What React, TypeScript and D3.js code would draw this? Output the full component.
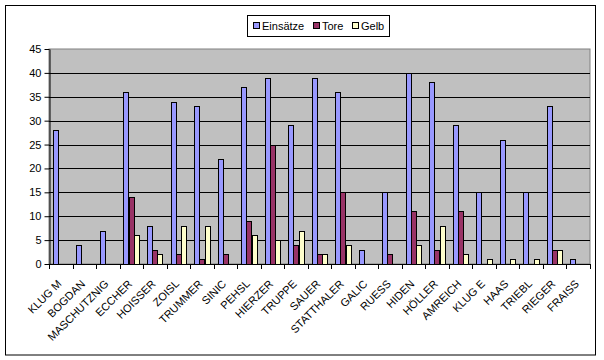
import React, {useEffect, useRef} from 'react';
import * as d3 from 'd3';

const players = ['KLUG M', 'BOGDAN', 'MASCHUTZNIG', 'ECCHER', 'HOISSER', 'ZOISL', 'TRUMMER', 'SINIC', 'PEHSL', 'HIERZER', 'TRUPPE', 'SAUER', 'STATTHALER', 'GALIC', 'RUESS', 'HIDEN', 'HÖLLER', 'AMREICH', 'KLUG E', 'HAAS', 'TRIEBL', 'RIEGER', 'FRAISS'];
const einsaetze = [28, 4, 7, 36, 8, 34, 33, 22, 37, 39, 29, 39, 36, 3, 15, 40, 38, 29, 15, 26, 15, 33, 1];
const tore = [0, 0, 0, 14, 3, 2, 1, 2, 9, 25, 4, 2, 15, 0, 2, 11, 3, 11, 0, 0, 0, 3, 0];
const gelb = [0, 0, 0, 6, 2, 8, 8, 0, 6, 5, 7, 2, 4, 0, 0, 4, 8, 2, 1, 1, 1, 3, 0];
const series_names = ['Einsätze', 'Tore', 'Gelb'];
const series_colors = ['#9999FF', '#993366', '#FFFFCC'];
const y_ticks = [0, 5, 10, 15, 20, 25, 30, 35, 40, 45];

const FONT = '"Liberation Sans", Arial, sans-serif';

export default function App() {
  const ref = useRef<SVGSVGElement>(null);

  useEffect(() => {
    const svg = d3.select(ref.current);
    svg.selectAll('*').remove();

    // plot area box
    const left = 49, right = 590, top = 49, bottom = 264;

    const x_scale = d3.scaleBand<string>().domain(players).range([left, right]);
    const inner = d3.scaleBand<string>()
      .domain(series_names)
      .range([0, x_scale.bandwidth()])
      .paddingInner(0)
      .paddingOuter(0.75);
    const y_scale = d3.scaleLinear().domain([0, 45]).range([bottom, top]);

    // chart border
    svg.append('rect')
      .attr('x', 5.5).attr('y', 5.5)
      .attr('width', 590).attr('height', 349.5)
      .attr('fill', '#fff').attr('stroke', '#000');

    // plot background
    svg.append('rect')
      .attr('x', left).attr('y', top)
      .attr('width', right - left).attr('height', bottom - top)
      .attr('fill', '#C0C0C0').attr('stroke', '#808080');

    // grid lines
    svg.append('g')
      .selectAll('line')
      .data(y_ticks.filter(d => d > 0 && d < 45))
      .join('line')
      .attr('x1', left).attr('x2', right)
      .attr('y1', d => Math.round(y_scale(d)) + 0.5)
      .attr('y2', d => Math.round(y_scale(d)) + 0.5)
      .attr('stroke', '#000');

    // bars
    const all_series = [einsaetze, tore, gelb];
    all_series.forEach((values, s) => {
      svg.append('g')
        .selectAll('rect')
        .data(players.map((p, i) => ({p, v: values[i]})).filter(d => d.v > 0))
        .join('rect')
        .attr('x', d => Math.round(x_scale(d.p)! + inner(series_names[s])!) + 0.5)
        .attr('y', d => Math.round(y_scale(d.v)) + 0.5)
        .attr('width', Math.round(inner.bandwidth()))
        .attr('height', d => Math.round(y_scale(0)) - Math.round(y_scale(d.v)))
        .attr('fill', series_colors[s])
        .attr('stroke', '#000');
    });

    // y axis
    svg.append('g')
      .attr('transform', `translate(${left + 0.5},0)`)
      .call(d3.axisLeft(y_scale).tickValues(y_ticks).tickSize(5).tickSizeOuter(0).tickPadding(3))
      .call(g => {
        g.select('.domain').attr('stroke', '#000');
        g.selectAll('.tick text').attr('font-family', FONT).attr('font-size', 11).attr('fill', '#000');
      });

    // x axis line + ticks at category boundaries
    const boundaries = players.map(p => x_scale(p)!).concat([right]);
    svg.append('line')
      .attr('x1', left).attr('x2', right)
      .attr('y1', bottom + 0.5).attr('y2', bottom + 0.5)
      .attr('stroke', '#000');
    svg.append('g')
      .selectAll('line')
      .data(boundaries)
      .join('line')
      .attr('x1', d => Math.round(d) + 0.5).attr('x2', d => Math.round(d) + 0.5)
      .attr('y1', bottom).attr('y2', bottom + 5)
      .attr('stroke', '#000');

    // x labels, rotated 45 degrees
    svg.append('g')
      .selectAll('text')
      .data(players)
      .join('text')
      .attr('transform', d => `translate(${x_scale(d)! + x_scale.bandwidth() / 2 - 4},${bottom + 15}) rotate(-45)`)
      .attr('text-anchor', 'end')
      .attr('dy', '0.71em')
      .attr('font-family', FONT)
      .attr('font-size', 11)
      .text(d => d);

    // legend
    const legend = svg.append('g');
    legend.append('rect')
      .attr('x', 247.5).attr('y', 15.5)
      .attr('width', 142).attr('height', 21)
      .attr('fill', '#fff').attr('stroke', '#000');
    const item_x = [253, 313, 352];
    series_names.forEach((name, s) => {
      legend.append('rect')
        .attr('x', item_x[s] + 0.5).attr('y', 22.5)
        .attr('width', 6).attr('height', 6)
        .attr('fill', series_colors[s]).attr('stroke', '#000');
      legend.append('text')
        .attr('x', item_x[s] + 9).attr('y', 30)
        .attr('font-family', FONT)
        .attr('font-size', 11)
        .text(name);
    });
  }, []);

  return (
    <svg ref={ref} width={604} height={360} style={{position: 'absolute', left: 0, top: 0}}></svg>
  );
}
